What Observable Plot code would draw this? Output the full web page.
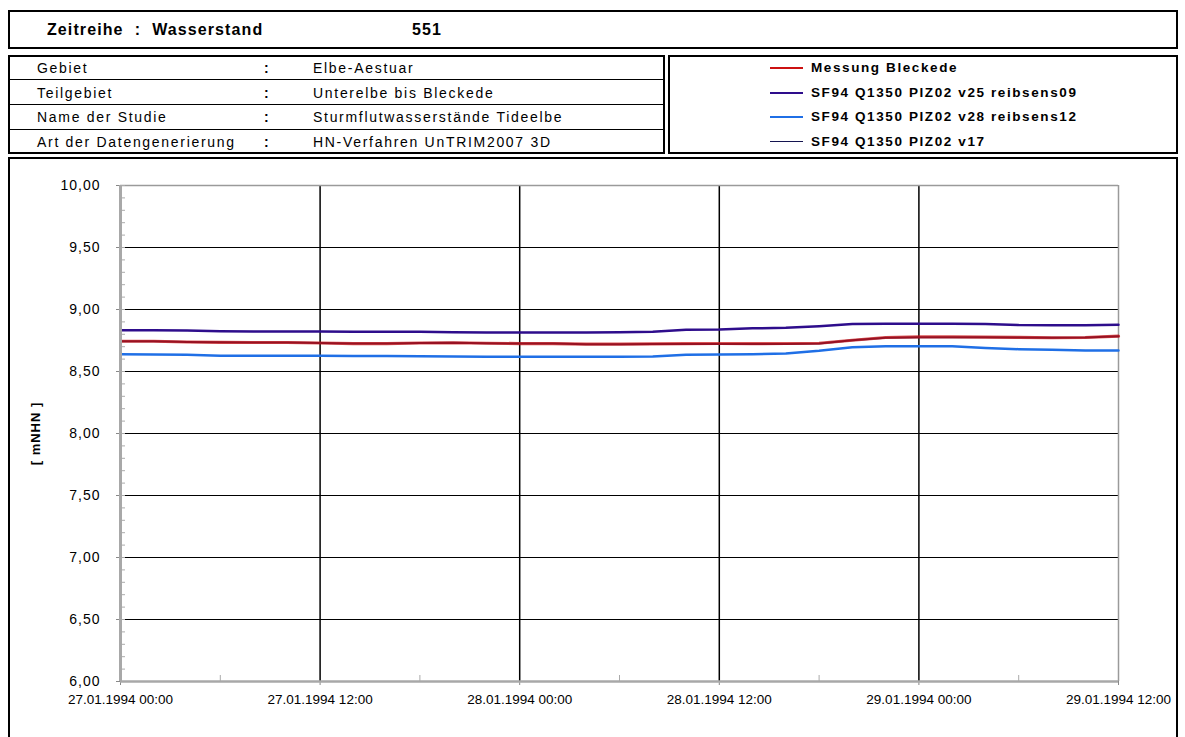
<!DOCTYPE html>
<html>
<head>
<meta charset="utf-8">
<script src="https://cdn.jsdelivr.net/npm/d3@7"></script>
<script src="https://cdn.jsdelivr.net/npm/@observablehq/plot@0.6"></script>
<style>
  html, body { margin: 0; padding: 0; background: #fff; }
  body { width: 1185px; height: 737px; overflow: hidden; position: relative;
         font-family: "Liberation Sans", Arial, sans-serif; color: #000; }
  .box { position: absolute; border: 2px solid #000; box-sizing: border-box; }
  .t { position: absolute; white-space: nowrap; font-size: 14px; letter-spacing: 1.7px; line-height: 1; transform: translateY(-50%); }
  .h { position: absolute; white-space: nowrap; font-size: 16px; font-weight: bold; letter-spacing: 1.1px; line-height: 1; transform: translateY(-50%); }
  .rl { position: absolute; left: 8px; width: 657px; height: 0; border-top: 1.5px solid #000; }
  .sw { position: absolute; width: 33px; height: 0; }
  #chart { position: absolute; left: 0; top: 158px; }
  #chart svg g[aria-label="y-axis tick label"] text { letter-spacing: 1px; font-size: 14px; }
  #chart svg g[aria-label="x-axis tick label"] text { letter-spacing: 0px; font-size: 13.5px; }
  #chart svg g[aria-label="y-axis label"] text { letter-spacing: 1px; font-size: 13px; font-weight: bold; }
</style>
</head>
<body>
<div class="box" style="left:8px;top:10px;width:1170px;height:39px;"></div>
<div class="h" style="left:47px;top:30px;">Zeitreihe&nbsp; :&nbsp; Wasserstand</div>
<div class="h" style="left:412px;top:30px;">551</div>

<div class="box" style="left:8px;top:55px;width:657px;height:99px;"></div>
<div class="rl" style="top:79px;"></div>
<div class="rl" style="top:104px;"></div>
<div class="rl" style="top:129px;"></div>
<div id="meta"></div>

<div class="box" style="left:668px;top:55px;width:510px;height:99px;"></div>
<div id="legend"></div>

<div class="box" style="left:8px;top:157px;width:1170px;height:620px;"></div>
<div id="chart"></div>

<script>
// ---- header metadata ----
const metaLabels = ["Gebiet", "Teilgebiet", "Name der Studie", "Art der Datengenerierung"];
const metaValues = ["Elbe-Aestuar", "Unterelbe bis Bleckede", "Sturmflutwasserstände Tideelbe", "HN-Verfahren UnTRIM2007 3D"];

// ---- series ----
const seriesNames = ["Messung Bleckede", "SF94 Q1350 PIZ02 v25 reibsens09", "SF94 Q1350 PIZ02 v28 reibsens12", "SF94 Q1350 PIZ02 v17"];
const seriesColors = ["#cc1111", "#2e0d8c", "#1f6fe6", "#141450"];
const seriesWidths = [3, 2.5, 2.5, 2];

// hours after 27.01.1994 00:00
const hours = [0,2,4,6,8,10,12,14,16,18,20,22,24,26,28,30,32,34,36,38,40,42,44,46,48,50,52,54,56,58,60];

const messung = [8.744,8.744,8.738,8.735,8.734,8.734,8.730,8.725,8.725,8.730,8.732,8.728,8.725,8.725,8.720,8.720,8.722,8.724,8.726,8.725,8.726,8.728,8.752,8.774,8.779,8.779,8.778,8.775,8.772,8.774,8.785];
const v25 = [8.833,8.833,8.830,8.825,8.822,8.822,8.822,8.820,8.820,8.820,8.816,8.815,8.815,8.815,8.815,8.817,8.820,8.836,8.838,8.848,8.852,8.865,8.883,8.886,8.886,8.886,8.884,8.874,8.873,8.873,8.877];
const v28 = [8.640,8.638,8.635,8.628,8.627,8.627,8.627,8.626,8.626,8.622,8.620,8.618,8.618,8.618,8.618,8.618,8.620,8.635,8.637,8.640,8.645,8.667,8.695,8.703,8.704,8.703,8.690,8.680,8.675,8.670,8.669];
const v17 = [8.744,8.744,8.738,8.735,8.734,8.734,8.730,8.725,8.725,8.730,8.732,8.728,8.725,8.725,8.720,8.720,8.722,8.722,8.722,8.722,8.722,8.726,8.752,8.772,8.777,8.777,8.776,8.775,8.772,8.774,8.784];

const yMajor = [6, 6.5, 7, 7.5, 8, 8.5, 9, 9.5, 10];
const yGrid = [6.5, 7, 7.5, 8, 8.5, 9, 9.5];
const yMinor = d3.range(6, 10.001, 0.1).map(v => +v.toFixed(1));
const xMajorHours = [0, 12, 24, 36, 48, 60];
const xMinorHours = [6, 18, 30, 42, 54];

// ---- build ----
const t0 = Date.UTC(1994, 0, 27, 0, 0);
const toDate = h => new Date(t0 + h * 3600e3);

const meta = document.getElementById("meta");
const rowY = [68, 93, 117, 142];
metaLabels.forEach((lab, i) => {
  meta.insertAdjacentHTML("beforeend",
    `<div class="t" style="left:37px;top:${rowY[i]}px">${lab}</div>` +
    `<div class="t" style="left:264px;top:${rowY[i]}px;font-weight:bold">:</div>` +
    `<div class="t" style="left:313px;top:${rowY[i]}px">${metaValues[i]}</div>`);
});

const legend = document.getElementById("legend");
seriesNames.forEach((name, i) => {
  legend.insertAdjacentHTML("beforeend",
    `<div class="sw" style="left:770px;top:${rowY[i] - 1}px;border-top:${i === 3 ? 1.5 : 2.5}px solid ${seriesColors[i]}"></div>` +
    `<div class="t" style="left:811px;top:${rowY[i]}px;font-weight:bold;font-size:13.5px;letter-spacing:1.6px">${name}</div>`);
});

const allSeries = [messung, v25, v28, v17];
const rows = [];
allSeries.forEach((vals, s) => vals.forEach((v, i) => rows.push({series: seriesNames[s], t: toDate(hours[i]), v})));
const bySeries = name => rows.filter(r => r.series === name);

const fmtY = d => d.toFixed(2).replace(".", ",");
const fmtX = d3.utcFormat("%d.%m.%Y %H:%M");

const xDomain = [toDate(0), toDate(60)];

const lineMark = (idx) => Plot.line(bySeries(seriesNames[idx]), {
  x: "t", y: "v", stroke: seriesColors[idx], strokeWidth: seriesWidths[idx], curve: "linear"
});

const plot = Plot.plot({
  width: 1185,
  height: 579,
  marginLeft: 120,
  marginRight: 67,
  marginTop: 27,
  marginBottom: 56,
  style: { fontFamily: '"Liberation Sans", Arial, sans-serif', fontSize: "13px", background: "transparent", color: "#000" },
  x: { type: "utc", domain: xDomain },
  y: { domain: [6, 10] },
  marks: [
    // grid
    Plot.ruleY(yGrid, { stroke: "#000", strokeWidth: 1 }),
    Plot.ruleX(xMajorHours.slice(1, -1).map(toDate), { stroke: "#000", strokeWidth: 1.5 }),
    // frame
    Plot.ruleY([10], { stroke: "#9a9a9a", strokeWidth: 1.5 }),
    Plot.ruleX([toDate(60)], { stroke: "#9a9a9a", strokeWidth: 1.5 }),
    // minor ticks
    Plot.axisY({ ticks: yMinor, tickSize: -5, text: null, stroke: "#aaa", label: null }),
    Plot.axisX({ ticks: xMinorHours.map(toDate), tickSize: -6, text: null, stroke: "#aaa", label: null }),
    // series
    lineMark(3),
    Plot.line(bySeries(seriesNames[0]), { x: "t", y: "v", stroke: seriesColors[0], strokeWidth: 3.2, strokeOpacity: 0.72 }),
    lineMark(1),
    lineMark(2),
    // axes
    Plot.axisY({ ticks: yMajor, tickSize: 4, tickPadding: 16, tickFormat: fmtY, stroke: "#888",
                 label: "[ mNHN ]", labelAnchor: "center", labelArrow: "none", labelOffset: 90 }),
    Plot.axisX({ ticks: xMajorHours.map(toDate), tickSize: 4, tickPadding: 9, tickFormat: fmtX, stroke: "#888", label: null }),
    Plot.ruleX([toDate(0)], { stroke: "#a8a8a8", strokeWidth: 3 }),
    Plot.ruleY([6], { stroke: "#a8a8a8", strokeWidth: 2.5 })
  ]
});
document.getElementById("chart").appendChild(plot);
</script>
</body>
</html>
